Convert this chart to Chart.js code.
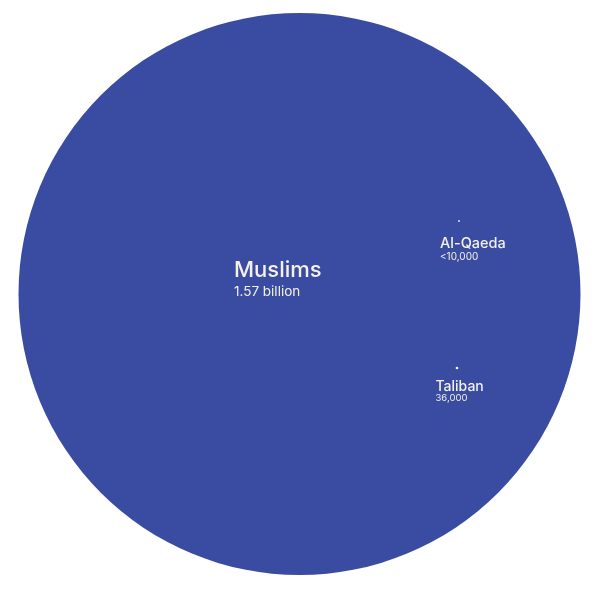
<!DOCTYPE html>
<html>
<head>
<meta charset="utf-8">
<script src="https://cdn.jsdelivr.net/npm/chart.js@4"></script>
<style>
  html, body { margin: 0; padding: 0; background: #ffffff; }
  #wrap { width: 599px; height: 591px; }
</style>
</head>
<body>
<div id="wrap"><canvas id="c" width="599" height="591"></canvas></div>
<script>
// ---- data ----
const groups = ["Muslims", "Al-Qaeda", "Taliban"];
const valueLabels = ["1.57 billion", "<10,000", "36,000"];
const populations = [1570000000, 10000, 36000];
const posX = [299.5, 459, 457];
const posY = [294, 221, 368];

const BIG_RADIUS = 281; // radius of the largest bubble in px
const maxPop = Math.max(...populations);

const bubbleColors = ["#3a4ca1", "#d8ddf2", "#f2f3fa"];

const labelPlugin = {
  id: 'bubbleLabels',
  afterDatasetsDraw(chart) {
    const ctx = chart.ctx;
    const meta = chart.getDatasetMeta(0);
    const styles = [
      { dx: -65.5, dy: -17, big: 22, small: 13.5, gap: 19 },
      { dx: -19, dy: 27, big: 14.5, small: 10, gap: 11.5 },
      { dx: -21.5, dy: 22.5, big: 14, small: 9.5, gap: 10 }
    ];
    ctx.save();
    ctx.fillStyle = '#f3f1e8';
    ctx.textBaseline = 'alphabetic';
    ctx.textAlign = 'left';
    meta.data.forEach((el, i) => {
      const s = styles[i];
      const x = el.x + s.dx, y = el.y + s.dy;
      ctx.font = '500 ' + s.big + 'px Inter, "Open Sans", sans-serif';
      ctx.fillText(groups[i], x, y);
      ctx.font = '400 ' + s.small + 'px Inter, "Open Sans", sans-serif';
      ctx.fillText(valueLabels[i], x, y + s.gap);
    });
    ctx.restore();
  }
};

new Chart(document.getElementById('c'), {
  type: 'bubble',
  data: {
    labels: groups,
    datasets: [{
      data: groups.map((g, i) => ({ x: posX[i], y: posY[i], v: populations[i] })),
      backgroundColor: bubbleColors,
      borderWidth: 0,
      clip: false,
      radius: (ctx) => {
        const v = ctx.raw ? ctx.raw.v : 0;
        return Math.max(1, BIG_RADIUS * Math.sqrt(v / maxPop));
      }
    }]
  },
  options: {
    responsive: false,
    animation: false,
    events: [],
    layout: { padding: 0, autoPadding: false },
    plugins: { legend: { display: false }, tooltip: { enabled: false } },
    scales: {
      x: { type: 'linear', min: 0, max: 599, display: false },
      y: { type: 'linear', min: 0, max: 591, reverse: true, display: false }
    }
  },
  plugins: [labelPlugin]
});
</script>
</body>
</html>
